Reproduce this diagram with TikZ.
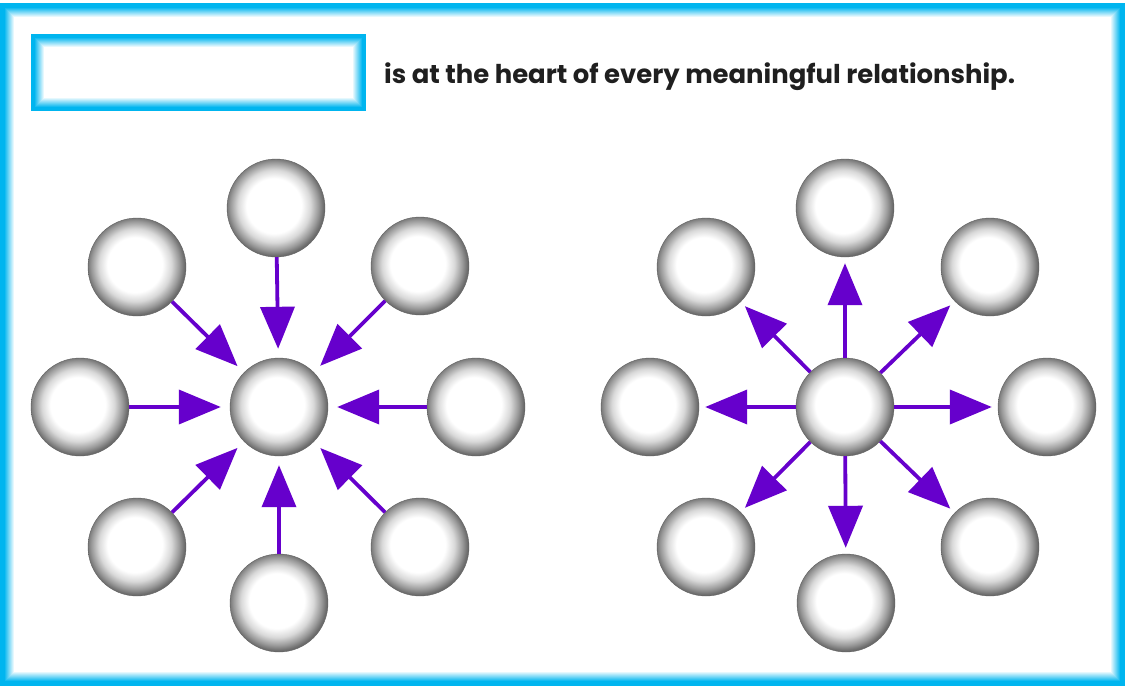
\documentclass[tikz,border=0pt]{standalone}
\usepackage{fontspec}
\setmainfont{Poppins}[BoldFont={Poppins Bold}]
\usetikzlibrary{arrows.meta}
\definecolor{frame}{HTML}{00B5EF}
\definecolor{arrowc}{HTML}{6600CC}
\pgfdeclareradialshading{ball}{\pgfpoint{-1.5bp}{1.5bp}}{%
  color(0bp)=(white); color(14bp)=(white); color(18.5bp)=(white!85!black);
  color(22.5bp)=(white!60!black); color(25bp)=(white!42!black); color(50bp)=(white!42!black)}
\tikzset{
  ball/.style={circle, minimum size=98pt, inner sep=0pt, shading=ball, draw=white!38!black, line width=0.4pt},
  arr/.style={draw=arrowc, line width=3.8pt, -{Triangle[length=42pt,width=34pt]}},
}
\begin{document}
\begin{tikzpicture}[x=1pt,y=-1pt]
\useasboundingbox (0,0) rectangle (1125,686);
\fill[white] (0,0) rectangle (1125,686);
% outer frame with inner fade
\foreach \i in {0,...,14}{
  \pgfmathsetmacro{\c}{\i<5 ? 100 : max(0,100-(\i-4)*10)}
  \draw[frame!\c!white, line width=1.05pt] (\i+0.5,3+\i+0.5) rectangle (1125-\i-0.5,686-\i-0.5);
}
% answer box with inner fade
\foreach \i in {0,...,13}{
  \pgfmathsetmacro{\c}{\i<4 ? 100 : max(0,100-(\i-3)*10)}
  \draw[frame!\c!white, line width=1.05pt] (31+\i+0.5,34+\i+0.5) rectangle (366-\i-0.5,111-\i-0.5);
}
\node[anchor=base west, inner sep=0pt, font=\bfseries\fontsize{25.9}{30}\selectfont, text=black!88] (txt) at (384,83) {is at the heart of every meaningful relationship.};
% left group: arrows inward
\node[ball] (c)  at (279,407) {};
\node[ball] (t)  at (276,208) {};
\node[ball] (ul) at (137,267) {};
\node[ball] (ur) at (420,266) {};
\node[ball] (l)  at (80,407) {};
\node[ball] (r)  at (476,407) {};
\node[ball] (dl) at (137,547) {};
\node[ball] (dr) at (420,547) {};
\node[ball] (b)  at (279,603) {};
\foreach \n in {t,ul,ur,l,r,dl,dr,b}{
  \draw[arr, shorten >=9pt] (\n) -- (c);
}
% right group: arrows outward
\node[ball] (c2)  at (845,407) {};
\node[ball] (t2)  at (845,208) {};
\node[ball] (ul2) at (706,267) {};
\node[ball] (ur2) at (990,267) {};
\node[ball] (l2)  at (650,407) {};
\node[ball] (r2)  at (1047,407) {};
\node[ball] (dl2) at (706,547) {};
\node[ball] (dr2) at (990,547) {};
\node[ball] (b2)  at (846,603) {};
\foreach \n in {t2,ul2,ur2,l2,r2,dl2,dr2,b2}{
  \draw[arr, shorten >=6pt] (c2) -- (\n);
}
\end{tikzpicture}
\end{document}
